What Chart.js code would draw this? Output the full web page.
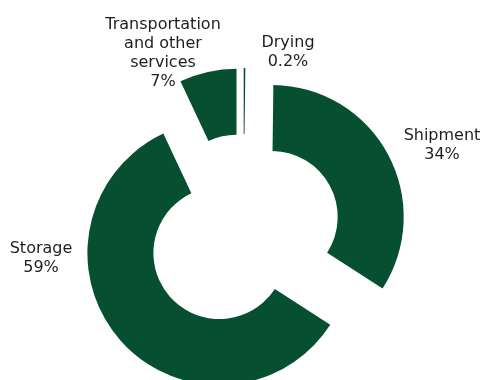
<!DOCTYPE html>
<html>
<head>
<meta charset="utf-8">
<script src="https://cdn.jsdelivr.net/npm/chart.js@4/dist/chart.umd.min.js"></script>
<style>
  html, body { margin: 0; padding: 0; background: #fff; }
  #wrap { width: 483px; height: 380px; position: relative; }
</style>
</head>
<body>
<div id="wrap"><canvas id="costShare"></canvas></div>
<script>
// Share of post-harvest costs, clockwise from 12 o'clock
const categories = [['Drying'], ['Shipment'], ['Storage'], ['Transportation', 'and other', 'services']];
const shares = [0.2, 34, 59, 7];

// label anchors (centre x, first line y) for each slice
const labelPos = [[288, 43], [442, 136], [41, 249], [163, 25]];

const GREEN = '#064f31';
const EXPLODE = 32; // px each slice is pulled out from the centre

// push every arc outwards along its mid angle, like an exploded doughnut
const explodePlugin = {
    id: 'explode',
    afterDatasetsUpdate(chart) {
        chart.getDatasetMeta(0).data.forEach(arc => {
            const mid = (arc.startAngle + arc.endAngle) / 2;
            arc.x += Math.cos(mid) * EXPLODE;
            arc.y += Math.sin(mid) * EXPLODE;
        });
    }
};

const labelPlugin = {
    id: 'sliceLabels',
    afterDraw(chart) {
        const ctx = chart.ctx;
        ctx.save();
        ctx.font = '16px "DejaVu Sans", Verdana, sans-serif';
        ctx.fillStyle = '#1e1e1e';
        ctx.textAlign = 'center';
        ctx.textBaseline = 'middle';
        categories.forEach((lines, i) => {
            const [x, y] = labelPos[i];
            const all = lines.concat([shares[i] + '%']);
            all.forEach((t, j) => ctx.fillText(t, x, y + j * 19));
        });
        ctx.restore();
    }
};

new Chart(document.getElementById('costShare'), {
    type: 'doughnut',
    data: {
        labels: categories.map(c => c.join(' ')),
        datasets: [{
            data: shares,
            backgroundColor: GREEN,
            borderWidth: 0,
            clip: false
        }]
    },
    options: {
        responsive: true,
        maintainAspectRatio: false,
        animation: false,
        events: [],
        radius: 132,
        cutout: '50%',
        rotation: 0,
        layout: { padding: { left: 4, right: 0, top: 84, bottom: 0 } },
        plugins: {
            legend: { display: false },
            tooltip: { enabled: false }
        }
    },
    plugins: [explodePlugin, labelPlugin]
});
</script>
</body>
</html>
